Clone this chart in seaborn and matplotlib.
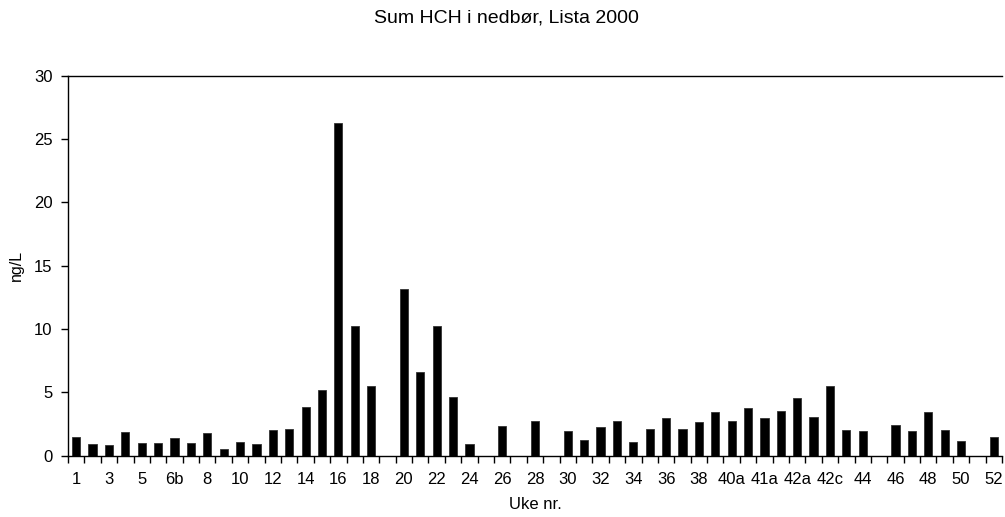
import numpy as np
import pandas as pd
import matplotlib
matplotlib.use("Agg")
import matplotlib.pyplot as plt
import seaborn as sns

# Weekly sampling periods (some weeks split into sub-periods a/b/c)
weeks = (["1", "2", "3", "4", "5", "6a", "6b"]
         + [str(n) for n in range(7, 40)]
         + ["40a", "40b", "41a", "41b", "42a", "42b", "42c"]
         + [str(n) for n in range(43, 53)])

# Sum HCH concentration in precipitation (ng/L); NaN = no sample
hch = [1.50, 0.92, 0.82, 1.87, 1.00, 0.97, 1.37, 1.00, 1.82, 0.50,
       1.10, 0.95, 2.05, 2.10, 3.87, 5.19, 26.26, 10.21, 5.50, np.nan,
       13.20, 6.58, 10.21, 4.60, 0.95, np.nan, 2.37, np.nan, 2.74, np.nan,
       1.95, 1.21, 2.24, 2.74, 1.10, 2.10, 3.00, 2.13, 2.66, 3.42,
       2.71, 3.76, 2.97, 3.53, 4.53, 3.08, 5.48, 2.03, 1.95, np.nan,
       2.42, 1.92, 3.42, 2.03, 1.16, np.nan, 1.48]

title = "Sum HCH i nedbør, Lista 2000"
x_label = "Uke nr."
y_label = "ng/L"
y_ticks = [0, 5, 10, 15, 20, 25, 30]

sns.set_style("ticks")
plt.rcParams["font.family"] = ["Liberation Sans", "DejaVu Sans"]
plt.rcParams.update({
    "text.color": "black",
    "axes.labelcolor": "black",
    "xtick.color": "black",
    "ytick.color": "black",
})

df = pd.DataFrame({"week": weeks, "hch": hch})

fig = plt.figure(figsize=(10.05, 5.17), dpi=100)
W, H = 1005, 517
left, right, top, bottom = 68, 1002, 75.7, 455.7
ax = fig.add_axes([left / W, 1 - bottom / H, (right - left) / W, (bottom - top) / H])

sns.barplot(data=df, x="week", y="hch", order=weeks, color="black",
            width=0.5, saturation=1, edgecolor="#333333", linewidth=0.6,
            errorbar=None, ax=ax)

n = len(weeks)
ax.set_xlim(-0.5, n - 0.5)
ax.set_ylim(0, 30)
ax.set_yticks(y_ticks)

# Labels under every other bar, tick marks at the bar boundaries
ax.set_xticks(range(0, n, 2))
ax.set_xticklabels([weeks[i] for i in range(0, n, 2)])
ax.set_xticks(np.arange(-0.5, n, 1.0), minor=True)
ax.tick_params(axis="x", which="major", length=0, pad=12, labelsize=12)
ax.tick_params(axis="x", which="minor", length=5, width=1, direction="out")
ax.tick_params(axis="y", length=5, width=1, direction="out", labelsize=12, pad=6)

for side in ["left", "bottom", "top"]:
    ax.spines[side].set_visible(True)
    ax.spines[side].set_color("black")
    ax.spines[side].set_linewidth(1)
ax.spines["right"].set_visible(False)

ax.set_xlabel(x_label, fontsize=12, labelpad=7)
ax.set_ylabel(y_label, fontsize=11.5, labelpad=7)
fig.text(506 / W, 1 - 18 / H, title, ha="center", va="center", fontsize=14)

fig.savefig("out.png", dpi=100, facecolor="white")
